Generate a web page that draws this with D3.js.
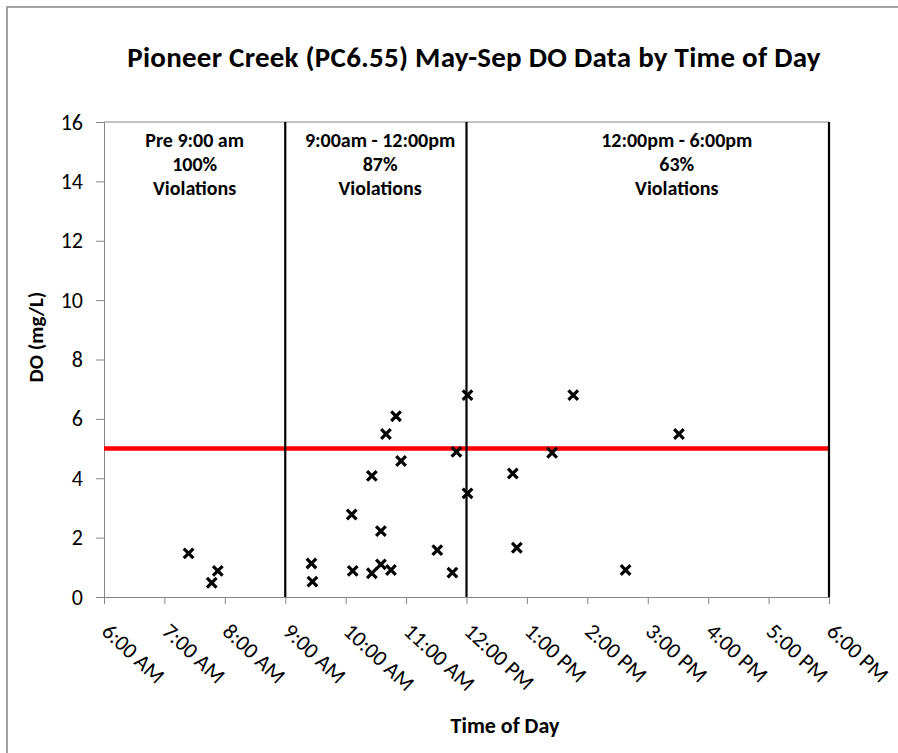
<!DOCTYPE html>
<html>
<head>
<meta charset="utf-8">
<script src="https://cdn.jsdelivr.net/npm/d3@7"></script>
<style>
  body { margin: 0; background: #fff; }
  text { font-family: Carlito, Calibri, Lato, "Open Sans", sans-serif; fill: #000; }
</style>
</head>
<body>
<div id="chart"></div>
<script>
// sample times and DO readings (May-Sep)
const sampleTimes = ["7:24", "7:47", "7:53", "9:26", "9:27", "10:06", "10:07", "10:26", "10:26",
    "10:35", "10:35", "10:40", "10:45", "10:50", "10:55", "11:31", "11:46", "11:50",
    "12:01", "12:01", "12:46", "12:50", "13:25", "13:46", "14:38", "15:31"];
const doValues = [1.47, 0.48, 0.88, 1.13, 0.52, 2.78, 0.88, 4.08, 0.80,
    2.22, 1.10, 5.49, 0.91, 6.09, 4.58, 1.58, 0.82, 4.89,
    6.80, 3.49, 4.16, 1.66, 4.86, 6.80, 0.91, 5.49];

const xTickLabels = ["6:00 AM", "7:00 AM", "8:00 AM", "9:00 AM", "10:00 AM", "11:00 AM", "12:00 PM",
    "1:00 PM", "2:00 PM", "3:00 PM", "4:00 PM", "5:00 PM", "6:00 PM"];
const yTicks = [0, 2, 4, 6, 8, 10, 12, 14, 16];

// period dividers (hour of day) and labels
const dividerHours = [9, 12, 18];
const periodCenters = [7.5, 10.57, 15.48];
const periodLabels = [
    ["Pre 9:00 am", "100%", "Violations"],
    ["9:00am - 12:00pm", "87%", "Violations"],
    ["12:00pm - 6:00pm", "63%", "Violations"]
];
const doStandard = 5;

const W = 898, H = 753;
const margin = {top: 122, right: 69, bottom: 156, left: 104};

const svg = d3.select("#chart").append("svg")
    .attr("width", W)
    .attr("height", H);

// outer chart border
svg.append("rect")
    .attr("x", 7).attr("y", 7)
    .attr("width", W + 20).attr("height", H + 20)
    .attr("fill", "none")
    .attr("stroke", "#868686")
    .attr("stroke-width", 1.5);

const x = d3.scaleLinear().domain([6, 18]).range([margin.left, W - margin.right]);
const y = d3.scaleLinear().domain([0, 16]).range([H - margin.bottom, margin.top]);

const parseHour = s => {
    let p = s.split(":");
    return +p[0] + (+p[1]) / 60;
};
const points = sampleTimes.map((t, i) => ({hour: parseHour(t), value: doValues[i]}));

// title
svg.append("text")
    .attr("x", 474).attr("y", 67)
    .attr("text-anchor", "middle")
    .attr("font-size", 29)
    .attr("letter-spacing", 0.25)
    .attr("font-weight", "bold")
    .text("Pioneer Creek (PC6.55) May-Sep DO Data by Time of Day");

// plot top border
svg.append("line")
    .attr("x1", x(6)).attr("x2", x(18))
    .attr("y1", y(16)).attr("y2", y(16))
    .attr("stroke", "#868686").attr("stroke-width", 1);

// y axis
const yAxis = svg.append("g")
    .attr("transform", `translate(${x(6)},0)`)
    .call(d3.axisLeft(y).tickValues(yTicks).tickSize(8).tickPadding(13));
yAxis.select(".domain").attr("stroke", "#868686");
yAxis.selectAll(".tick line").attr("stroke", "#868686");
yAxis.selectAll(".tick text")
    .attr("font-size", 22)
    .attr("font-family", null)
    .attr("fill", "#000");

// x axis
const xAxis = svg.append("g")
    .attr("transform", `translate(0,${y(0)})`)
    .call(d3.axisBottom(x).tickValues(d3.range(6, 19)).tickSize(7).tickFormat((d, i) => xTickLabels[i]));
xAxis.select(".domain").attr("stroke", "#868686");
xAxis.selectAll(".tick line").attr("stroke", "#868686");
xAxis.selectAll(".tick text")
    .attr("font-size", 22)
    .attr("font-family", null)
    .attr("fill", "#000")
    .attr("text-anchor", "start")
    .attr("x", 0).attr("y", 0).attr("dy", 0)
    .attr("transform", "translate(-4,36) rotate(43)");

// axis titles
svg.append("text")
    .attr("transform", "translate(43,337) rotate(-90)")
    .attr("text-anchor", "middle")
    .attr("font-size", 21)
    .attr("font-weight", "bold")
    .text("DO (mg/L)");

svg.append("text")
    .attr("x", 505).attr("y", 733)
    .attr("text-anchor", "middle")
    .attr("font-size", 22)
    .attr("font-weight", "bold")
    .text("Time of Day");

// DO standard line
svg.append("line")
    .attr("x1", x(6)).attr("x2", x(18))
    .attr("y1", y(doStandard)).attr("y2", y(doStandard))
    .attr("stroke", "#ff0000").attr("stroke-width", 4.5);

// period dividers
svg.selectAll(".divider")
    .data(dividerHours)
    .enter().append("line")
    .attr("class", "divider")
    .attr("x1", d => x(d)).attr("x2", d => x(d))
    .attr("y1", y(16)).attr("y2", y(0))
    .attr("stroke", "#000").attr("stroke-width", 2.2);

// period labels
periodLabels.forEach((lines, i) => {
    let t = svg.append("text")
        .attr("text-anchor", "middle")
        .attr("font-size", 20)
        .attr("font-weight", "bold");
    lines.forEach((line, j) => {
        t.append("tspan")
            .attr("x", x(periodCenters[i]))
            .attr("y", 147 + j * 24)
            .text(line);
    });
});

// x markers
const s = 4.8;
svg.selectAll(".pt")
    .data(points)
    .enter().append("path")
    .attr("class", "pt")
    .attr("transform", d => `translate(${x(d.hour)},${y(d.value)})`)
    .attr("d", `M${-s},${-s}L${s},${s}M${-s},${s}L${s},${-s}`)
    .attr("stroke", "#000")
    .attr("stroke-width", 3.2)
    .attr("fill", "none");
</script>
</body>
</html>
